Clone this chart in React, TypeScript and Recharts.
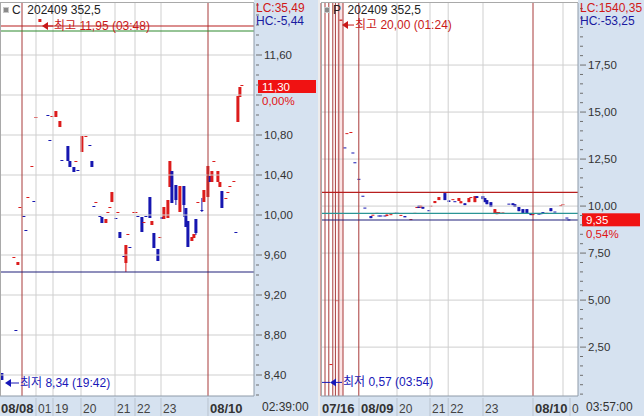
import React from 'react';
import { ComposedChart, Bar, XAxis, YAxis, ReferenceLine, ReferenceArea } from 'recharts';

// [bar index, open, high, low, close]
type Candle = [number, number, number, number, number];

const leftCandles: Candle[] = [
  [1, 8.42, 8.42, 8.35, 8.35],
  [7, 9.57, 9.58, 9.57, 9.58],
  [8, 8.85, 8.85, 8.84, 8.84],
  [9, 9.5, 9.53, 9.5, 9.53],
  [10, 10.07, 10.08, 10.07, 10.08],
  [12, 9.99, 9.99, 9.98, 9.98],
  [13, 9.85, 9.85, 9.84, 9.84],
  [14, 10.17, 10.18, 10.17, 10.18],
  [16, 10.48, 10.49, 10.48, 10.49],
  [17, 10.14, 10.14, 10.13, 10.13],
  [18, 10.97, 10.98, 10.97, 10.98],
  [20, 11.93, 11.96, 11.93, 11.96],
  [24, 11.0, 11.0, 10.99, 10.99],
  [25, 10.75, 10.75, 10.74, 10.74],
  [26, 10.98, 10.99, 10.98, 10.99],
  [28, 10.98, 11.04, 10.98, 11.04],
  [30, 10.88, 10.94, 10.88, 10.94],
  [31, 10.55, 10.55, 10.54, 10.54],
  [34, 10.69, 10.69, 10.54, 10.54],
  [35, 10.54, 10.54, 10.48, 10.48],
  [37, 10.48, 10.48, 10.43, 10.43],
  [38, 10.53, 10.54, 10.53, 10.54],
  [39, 10.45, 10.45, 10.44, 10.44],
  [41, 10.63, 10.79, 10.63, 10.79],
  [43, 10.78, 10.79, 10.78, 10.79],
  [45, 10.7, 10.7, 10.69, 10.69],
  [46, 10.54, 10.54, 10.48, 10.48],
  [47, 10.09, 10.09, 10.08, 10.08],
  [48, 10.12, 10.13, 10.12, 10.13],
  [50, 9.99, 9.99, 9.98, 9.98],
  [51, 9.98, 9.98, 9.92, 9.92],
  [53, 9.92, 9.96, 9.92, 9.96],
  [54, 10.02, 10.03, 10.02, 10.03],
  [55, 10.07, 10.08, 10.07, 10.08],
  [56, 10.13, 10.23, 10.13, 10.23],
  [58, 9.97, 9.97, 9.96, 9.96],
  [59, 10.02, 10.03, 10.02, 10.03],
  [60, 9.83, 9.83, 9.77, 9.77],
  [62, 9.59, 9.59, 9.58, 9.58],
  [63, 9.52, 9.7, 9.43, 9.7],
  [64, 9.8, 9.81, 9.8, 9.81],
  [65, 9.68, 9.68, 9.67, 9.67],
  [67, 10.02, 10.03, 10.02, 10.03],
  [68, 10.02, 10.03, 10.02, 10.03],
  [69, 9.99, 9.99, 9.98, 9.98],
  [71, 9.98, 9.98, 9.83, 9.83],
  [72, 9.92, 9.93, 9.92, 9.93],
  [73, 9.99, 9.99, 9.98, 9.98],
  [75, 10.18, 10.18, 9.97, 9.97],
  [76, 9.9, 9.94, 9.9, 9.94],
  [77, 9.82, 9.82, 9.67, 9.67],
  [79, 9.66, 9.66, 9.54, 9.54],
  [80, 9.77, 9.78, 9.77, 9.78],
  [81, 9.98, 9.98, 9.96, 9.96],
  [82, 9.96, 10.08, 9.96, 10.08],
  [84, 9.97, 10.15, 9.97, 10.15],
  [85, 10.28, 10.54, 10.28, 10.54],
  [86, 10.44, 10.44, 10.12, 10.12],
  [88, 10.3, 10.3, 10.1, 10.15],
  [90, 10.03, 10.29, 10.03, 10.29],
  [92, 10.29, 10.29, 9.98, 10.1],
  [93, 10.07, 10.07, 9.88, 9.88],
  [94, 9.94, 9.94, 9.68, 9.68],
  [96, 9.74, 9.78, 9.74, 9.78],
  [97, 9.77, 9.81, 9.77, 9.81],
  [98, 9.96, 9.96, 9.8, 9.82],
  [99, 10.12, 10.13, 10.12, 10.13],
  [101, 10.05, 10.17, 10.03, 10.04],
  [102, 10.13, 10.25, 10.13, 10.25],
  [104, 10.18, 10.49, 10.18, 10.49],
  [105, 10.39, 10.39, 10.33, 10.33],
  [106, 10.33, 10.44, 10.33, 10.44],
  [107, 10.53, 10.54, 10.53, 10.54],
  [109, 10.33, 10.44, 10.33, 10.44],
  [110, 10.28, 10.33, 10.28, 10.33],
  [111, 10.24, 10.24, 10.07, 10.07],
  [113, 10.16, 10.17, 10.16, 10.17],
  [114, 10.22, 10.23, 10.22, 10.23],
  [115, 10.28, 10.29, 10.28, 10.29],
  [117, 10.33, 10.34, 10.33, 10.34],
  [118, 9.83, 9.83, 9.82, 9.82],
  [119, 10.93, 11.19, 10.93, 11.19],
  [120, 11.18, 11.28, 11.18, 11.28],
  [121, 11.29, 11.3, 11.29, 11.3],
];

const rightCandles: Candle[] = [
  [5, 1.55, 1.6, 1.55, 1.6],
  [8, 4.95, 5.0, 4.95, 5.0],
  [10, 19.85, 19.92, 19.85, 19.92],
  [12, 13.12, 13.12, 13.07, 13.07],
  [13, 13.84, 13.88, 13.84, 13.88],
  [15, 13.9, 13.94, 13.9, 13.94],
  [16, 12.85, 12.85, 12.8, 12.8],
  [17, 12.33, 12.33, 12.28, 12.28],
  [19, 11.45, 11.45, 11.4, 11.4],
  [21, 10.55, 10.55, 10.5, 10.5],
  [22, 9.92, 9.92, 9.87, 9.87],
  [25, 9.47, 9.47, 9.36, 9.36],
  [26, 9.5, 9.54, 9.5, 9.54],
  [28, 9.6, 9.64, 9.6, 9.64],
  [29, 9.5, 9.5, 9.46, 9.46],
  [30, 9.5, 9.5, 9.46, 9.46],
  [32, 9.5, 9.5, 9.46, 9.46],
  [33, 9.47, 9.55, 9.47, 9.55],
  [35, 9.53, 9.57, 9.53, 9.57],
  [37, 9.58, 9.64, 9.58, 9.64],
  [38, 9.65, 9.65, 9.61, 9.61],
  [40, 9.49, 9.53, 9.49, 9.53],
  [42, 9.47, 9.47, 9.4, 9.4],
  [45, 9.27, 9.31, 9.27, 9.31],
  [47, 9.6, 9.64, 9.6, 9.64],
  [48, 9.91, 9.95, 9.91, 9.95],
  [49, 10.02, 10.02, 9.9, 9.9],
  [50, 9.92, 10.02, 9.92, 10.02],
  [51, 9.96, 9.96, 9.86, 9.86],
  [54, 9.78, 9.78, 9.74, 9.74],
  [55, 9.98, 10.02, 9.98, 10.02],
  [57, 10.16, 10.27, 10.16, 10.27],
  [59, 10.32, 10.48, 10.32, 10.48],
  [62, 10.69, 10.69, 10.32, 10.32],
  [64, 10.3, 10.3, 10.22, 10.22],
  [66, 10.33, 10.37, 10.33, 10.37],
  [67, 10.26, 10.26, 10.22, 10.22],
  [69, 10.27, 10.43, 10.27, 10.43],
  [70, 10.15, 10.26, 10.15, 10.26],
  [72, 10.15, 10.15, 10.05, 10.05],
  [74, 10.21, 10.43, 10.21, 10.43],
  [75, 10.44, 10.48, 10.44, 10.48],
  [77, 10.21, 10.53, 10.21, 10.53],
  [78, 10.53, 10.53, 10.43, 10.43],
  [81, 10.53, 10.53, 10.37, 10.37],
  [82, 10.43, 10.43, 10.21, 10.21],
  [83, 10.32, 10.32, 10.1, 10.1],
  [85, 10.21, 10.21, 9.95, 9.95],
  [87, 9.63, 9.84, 9.63, 9.84],
  [88, 9.57, 9.68, 9.57, 9.68],
  [89, 9.64, 9.68, 9.64, 9.68],
  [91, 9.62, 9.66, 9.62, 9.66],
  [94, 10.13, 10.13, 10.09, 10.09],
  [96, 10.15, 10.15, 10.05, 10.05],
  [97, 10.1, 10.1, 9.95, 9.95],
  [99, 9.95, 9.95, 9.73, 9.73],
  [101, 9.84, 9.84, 9.63, 9.63],
  [103, 9.84, 9.84, 9.63, 9.63],
  [105, 9.62, 9.62, 9.52, 9.52],
  [106, 9.52, 9.6, 9.52, 9.6],
  [109, 9.6, 9.6, 9.56, 9.56],
  [110, 9.62, 9.62, 9.57, 9.57],
  [111, 9.68, 9.68, 9.62, 9.62],
  [113, 9.6, 9.64, 9.6, 9.64],
  [115, 9.89, 9.89, 9.73, 9.73],
  [117, 9.71, 9.71, 9.67, 9.67],
  [120, 10.01, 10.05, 10.01, 10.05],
  [121, 10.06, 10.1, 10.06, 10.1],
  [123, 9.39, 9.39, 9.35, 9.35],
  [124, 9.29, 9.29, 9.25, 9.25],
];

// y axis labels
const leftMajor = [8.4, 8.8, 9.2, 9.6, 10.0, 10.4, 10.8, 11.6];
const leftGrid = [8.4, 8.8, 9.2, 9.6, 10.0, 10.4, 10.8, 11.2, 11.6];
const rightMajor = [2.5, 5.0, 7.5, 10.0, 12.5, 15.0, 17.5];

// time axis: boundaries in bar index, with their labels
const leftTimePos = [0, 18, 26.5, 40.5, 57.5, 67.5, 80.5, 104];
const leftTimeLabels = ['08/08', '01', '19', '20', '21', '22', '23', '08/10'];
const leftTimeBold = [true, false, false, false, false, false, false, true];
const leftRedDays = [11, 104];
const leftGrayDays = [18, 26.5, 40.5, 57.5, 67.5, 80.5];

const rightTimePos = [0, 19, 38, 54.5, 63.6, 81, 106, 124.5];
const rightTimeLabels = ['07/16', '08/09', '20', '21', '22', '23', '08/10', '0'];
const rightTimeBold = [true, true, false, false, false, false, true, false];
const rightRedDays = [0, 2, 3.9, 5.9, 7.2, 8.9, 11, 18.9, 106];
const rightGrayDays = [38, 54.5, 63.6, 81, 121];
const rightPink: [number, number] = [7.9, 11.1];

// indicator lines [value, colour]
const leftLevels: [number, string][] = [[11.89, '#B81E1E'], [11.84, '#2E8A2E'], [9.43, '#20207A']];
const rightLevels: [number, string][] = [[10.73, '#B81E1E'], [9.61, '#2A9595'], [9.26, '#20207A']];

const UP = '#DC1C1C';
const DOWN = '#1616B0';
const AXIS_BG = '#D6E2F0';
const GRID = '#CFCFCF';
const DAY_RED = '#A83A3A';
const FONT = '"Liberation Sans", "Noto Sans CJK KR", sans-serif';

const fmt = (v: number) => v.toFixed(2).replace('.', ',');

const CandleShape = (props: any) => {
  const { x, y, width, height, payload } = props;
  if (x == null || y == null || !payload) return null;
  const cx = x + width / 2;
  const span = payload.h - payload.l;
  const k = span > 0 ? height / span : 0;
  const top = y + (payload.h - Math.max(payload.o, payload.c)) * k;
  const bh = Math.max(1, Math.abs(payload.o - payload.c) * k);
  const color = payload.c >= payload.o ? UP : DOWN;
  return (
    <g>
      {height > 1.5 && <line x1={cx} x2={cx} y1={y} y2={y + height} stroke={color} strokeWidth={1} />}
      <rect x={cx - 1.5} y={top} width={3} height={bh} fill={color} />
    </g>
  );
};

const PriceTag = (props: any) => {
  const { viewBox, text, pct, dx } = props;
  const bx = viewBox.x + viewBox.width + dx;
  const y = viewBox.y;
  return (
    <g fontFamily={FONT} fontSize={11.5}>
      <rect x={bx} y={y - 5} width={58} height={13} fill="#F01212" />
      <text x={bx + 4} y={y + 5.5} fill="#fff">{text}</text>
      <text x={bx + 4} y={y + 20} fill="#E01414">{pct}</text>
    </g>
  );
};

const ExtremeTag = (props: any) => {
  const { viewBox, text, color, tipX, textX, dy, lead } = props;
  const x0 = viewBox.x;
  const ty = viewBox.y + dy;
  return (
    <g fontFamily={FONT} fontSize={12}>
      {lead != null && <line x1={x0 + lead} x2={x0 + tipX} y1={ty} y2={ty} stroke={color} />}
      <polygon points={`${x0 + tipX},${ty} ${x0 + tipX + 6},${ty - 4} ${x0 + tipX + 6},${ty + 4}`} fill={color} />
      <line x1={x0 + tipX + 5} x2={x0 + textX - 1} y1={ty} y2={ty} stroke={color} />
      <text x={x0 + textX} y={ty + 4} fill={color}>{text}</text>
    </g>
  );
};

type PanelProps = {
  left: number;
  width: number;
  ml: number;
  axisW: number;
  candles: Candle[];
  xMax: number;
  yDomain: [number, number];
  minorStep: number;
  major: number[];
  grid: number[];
  timePos: number[];
  timeLabels: string[];
  timeBold: boolean[];
  redDays: number[];
  grayDays: number[];
  pink?: [number, number];
  levels: [number, string][];
  price: number;
  pct: string;
  high: number;
  highText: string;
  highTip: number;
  highTextX: number;
  highDy: number;
  low: number;
  lowText: string;
  lowTip: number;
  lowTextX: number;
  lowDy: number;
  lowLead?: number;
  code: string;
  lc: string;
  hc: string;
  clock: string;
};

function Panel(p: PanelProps) {
  const data = p.candles.map(([i, o, h, l, c]) => ({ i, o, h, l, c }));
  const plotW = p.width - p.ml - p.axisW;
  const minor: number[] = [];
  for (let v = Math.ceil(p.yDomain[0] / p.minorStep) * p.minorStep; v <= p.yDomain[1]; v += p.minorStep) {
    minor.push(Math.round(v * 100) / 100);
  }

  const YTick = (t: any) => {
    const v = t.payload.value;
    const isMajor = p.major.some((m) => Math.abs(m - v) < 1e-6);
    const isGrid = p.grid.some((m) => Math.abs(m - v) < 1e-6);
    return (
      <g>
        <line x1={t.x} x2={t.x + (isGrid ? 6 : 3)} y1={t.y} y2={t.y} stroke="#6f6f6f" />
        {isMajor && (
          <text x={t.x + 8} y={t.y + 4} fill="#333" fontSize={11.5} fontFamily={FONT}>
            {fmt(v)}
          </text>
        )}
      </g>
    );
  };

  const XTick = (t: any) => {
    const idx = p.timePos.findIndex((q) => Math.abs(q - t.payload.value) < 1e-6);
    if (idx < 0) return null;
    const bold = p.timeBold[idx];
    return (
      <g>
        {idx > 0 && <line x1={t.x} x2={t.x} y1={t.y} y2={t.y + 20} stroke="#b9c3cf" />}
        <text
          x={idx === 0 ? t.x + 1 : t.x + 2}
          y={t.y + 15}
          fill={bold ? '#333' : '#444'}
          fontSize={bold ? 13 : 12}
          fontWeight={bold ? 'bold' : 'normal'}
          fontFamily={FONT}
        >
          {p.timeLabels[idx]}
        </text>
      </g>
    );
  };

  return (
    <div style={{ position: 'absolute', left: p.left, top: 0, width: p.width, height: 416, background: '#fff', overflow: 'hidden' }}>
      <div style={{ position: 'absolute', left: p.ml + plotW, top: 0, width: p.axisW, height: 416, background: AXIS_BG }} />
      <div style={{ position: 'absolute', left: 0, top: 396, width: p.width, height: 20, background: AXIS_BG }} />
      <ComposedChart width={p.width} height={416} data={data} margin={{ top: 3, right: 0, bottom: 0, left: p.ml }}>
        <XAxis
          dataKey="i"
          type="number"
          domain={[0, p.xMax]}
          allowDataOverflow
          ticks={p.timePos}
          interval={0}
          height={20}
          tickLine={false}
          tickSize={0}
          axisLine={{ stroke: '#8e9aa8' }}
          tick={<XTick />}
        />
        <YAxis
          orientation="right"
          type="number"
          width={p.axisW}
          domain={p.yDomain}
          allowDataOverflow
          ticks={minor}
          interval={0}
          tickLine={false}
          tickSize={0}
          axisLine={{ stroke: '#8e9aa8' }}
          tick={<YTick />}
        />
        {p.pink && <ReferenceArea x1={p.pink[0]} x2={p.pink[1]} fill="#FBE4E4" fillOpacity={1} stroke="none" />}
        {p.grid.map((v) => (
          <ReferenceLine key={`h${v}`} y={v} stroke={GRID} />
        ))}
        {p.grayDays.map((v) => (
          <ReferenceLine key={`g${v}`} x={v} stroke={GRID} />
        ))}
        {p.redDays.map((v) => (
          <ReferenceLine key={`r${v}`} x={v} stroke={DAY_RED} />
        ))}
        {p.levels.map(([v, c]) => (
          <ReferenceLine key={`l${v}`} y={v} stroke={c} strokeWidth={1.2} />
        ))}
        <Bar dataKey={(d: any) => [d.l, d.h]} barSize={3} isAnimationActive={false} shape={<CandleShape />} />
        <ReferenceLine y={p.price} stroke="none" label={<PriceTag text={fmt(p.price)} pct={p.pct} dx={4} />} />
        <ReferenceLine
          y={p.high}
          stroke="none"
          label={<ExtremeTag text={p.highText} color="#C81818" tipX={p.highTip} textX={p.highTextX} dy={p.highDy} />}
        />
        <ReferenceLine
          y={p.low}
          stroke="none"
          label={<ExtremeTag text={p.lowText} color="#1818B8" tipX={p.lowTip} textX={p.lowTextX} dy={p.lowDy} lead={p.lowLead} />}
        />
      </ComposedChart>
      <div style={{ position: 'absolute', left: p.ml, top: 2, width: plotW - 1, height: 393, borderTop: '1px solid #a9a9a9', borderLeft: '1px solid #a9a9a9', pointerEvents: 'none' }} />
      <div style={{ position: 'absolute', left: p.ml + 3, top: 7, width: 4, height: 4, background: '#8a8a8a', border: '1px solid #c8c8c8' }} />
      <div style={{ position: 'absolute', left: p.ml + 12, top: 3, fontSize: 12, color: '#222', fontFamily: FONT, whiteSpace: 'pre' }}>
        {p.code + '  202409 352,5'}
      </div>
      <div style={{ position: 'absolute', left: p.ml + plotW + 2, top: 2, fontSize: 12, lineHeight: '13px', fontFamily: FONT }}>
        <div style={{ color: '#D01818' }}>{p.lc}</div>
        <div style={{ color: '#1A1AA0' }}>{p.hc}</div>
      </div>
      <div style={{ position: 'absolute', left: p.ml + plotW + 8, top: 400, fontSize: 12, color: '#333', fontFamily: FONT }}>{p.clock}</div>
    </div>
  );
}

export default function App() {
  return (
    <div style={{ position: 'absolute', left: 0, top: 0, width: 644, height: 416, background: '#EDEDED', fontFamily: FONT }}>
      <Panel
        left={0}
        width={318}
        ml={0}
        axisW={64}
        candles={leftCandles}
        xMax={127}
        yDomain={[8.19, 12.12]}
        minorStep={0.1}
        major={leftMajor}
        grid={leftGrid}
        timePos={leftTimePos}
        timeLabels={leftTimeLabels}
        timeBold={leftTimeBold}
        redDays={leftRedDays}
        grayDays={leftGrayDays}
        levels={leftLevels}
        price={11.3}
        pct="0,00%"
        high={11.95}
        highText="최고 11,95 (03:48)"
        highTip={42}
        highTextX={54}
        highDy={6}
        low={8.34}
        lowText="최저 8,34 (19:42)"
        lowTip={5}
        lowTextX={20}
        lowDy={2}
        code="C"
        lc="LC:35,49"
        hc="HC:-5,44"
        clock="02:39:00"
      />
      <Panel
        left={320}
        width={324}
        ml={1}
        axisW={66}
        candles={rightCandles}
        xMax={128.5}
        yDomain={[-0.1, 20.8]}
        minorStep={0.5}
        major={rightMajor}
        grid={rightMajor}
        timePos={rightTimePos}
        timeLabels={rightTimeLabels}
        timeBold={rightTimeBold}
        redDays={rightRedDays}
        grayDays={rightGrayDays}
        pink={rightPink}
        levels={rightLevels}
        price={9.35}
        pct="0,54%"
        high={20.0}
        highText="최고 20,00 (01:24)"
        highTip={21}
        highTextX={34}
        highDy={7}
        low={0.57}
        lowText="최저 0,57 (03:54)"
        lowTip={9}
        lowTextX={22}
        lowDy={-1}
        lowLead={1}
        code="P"
        lc="LC:1540,35"
        hc="HC:-53,25"
        clock="03:57:00"
      />
    </div>
  );
}
